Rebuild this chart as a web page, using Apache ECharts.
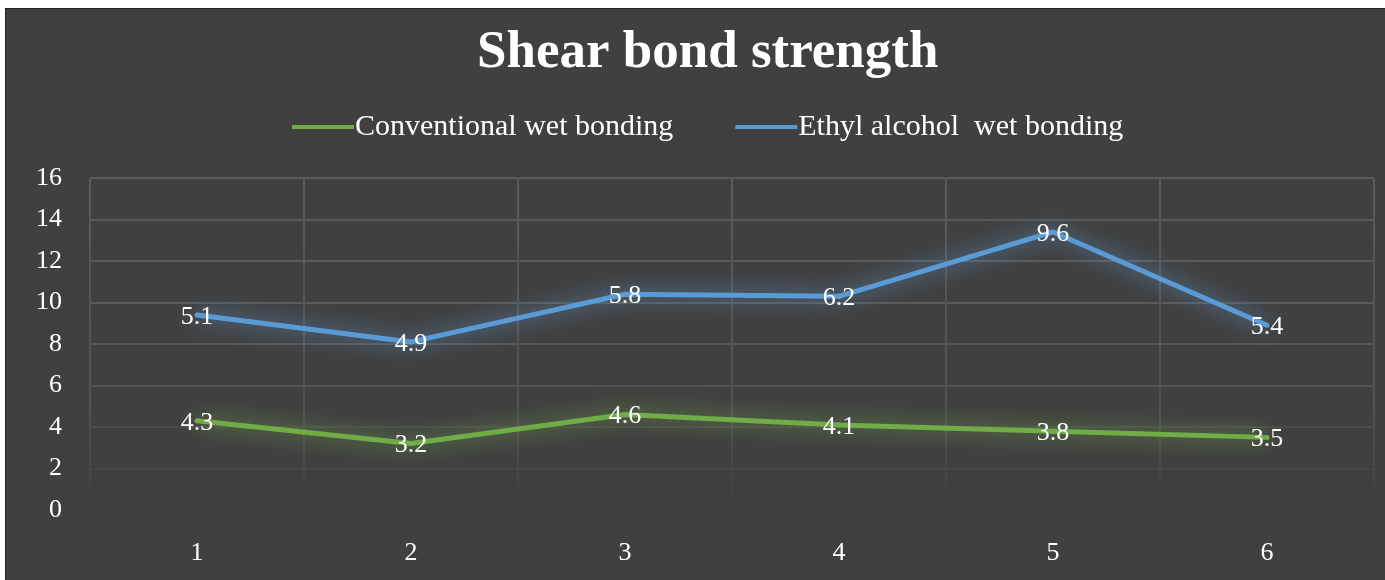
<!DOCTYPE html>
<html>
<head>
<meta charset="utf-8">
<script src="https://cdn.jsdelivr.net/npm/echarts@6/dist/echarts.min.js"></script>
<style>
    html, body { margin: 0; padding: 0; background: #ffffff; }
    #chart {
        position: absolute;
        left: 5px;
        top: 8px;
        width: 1379px;
        height: 571px;
        border-left: 1px solid #222;
        border-top: 1px solid #222;
        background: #404040;
    }
</style>
</head>
<body>
<div id="chart"></div>
<script>
const categories = ['1', '2', '3', '4', '5', '6'];
const conventionalValues = [4.3, 3.2, 4.6, 4.1, 3.8, 3.5];
const ethylValues = [5.1, 4.9, 5.8, 6.2, 9.6, 5.4];
const seriesNames = ['Conventional wet bonding', 'Ethyl alcohol  wet bonding'];

const serif = '"Liberation Serif", "DejaVu Serif", serif';
const green = '#70ad47';
const blue = '#5b9bd5';

// las lineas verticales se desvanecen hacia abajo, como en el original
const vLineGradient = new echarts.graphic.LinearGradient(0, 169, 0, 501, [
    { offset: 0, color: '#5a5a5a' },
    { offset: 0.7, color: '#515151' },
    { offset: 1, color: '#404040' }
], true);

function makeSeries(name, values, color) {
    return {
        name: name,
        type: 'line',
        stack: 'total',
        data: values,
        showSymbol: true,
        symbol: 'circle',
        symbolSize: 5,
        itemStyle: { color: color },
        lineStyle: {
            color: color,
            width: 5,
            shadowBlur: 20,
            shadowColor: color
        },
        label: {
            show: true,
            position: 'inside',
            color: '#ffffff',
            fontFamily: serif,
            fontSize: 26,
            offset: [0, 2]
        },
        emphasis: { disabled: true },
        animation: false
    };
}

const option = {
    backgroundColor: '#404040',
    title: {
        text: 'Shear bond strength',
        left: 466,
        top: 13,
        textStyle: {
            color: '#ffffff',
            fontFamily: serif,
            fontWeight: 'bold',
            fontSize: 53
        }
    },
    legend: {
        top: 98,
        left: 281,
        itemWidth: 62,
        itemHeight: 4,
        itemGap: 62,
        icon: 'rect',
        data: seriesNames,
        textStyle: {
            color: '#ffffff',
            fontFamily: serif,
            fontSize: 30,
            padding: [0, 0, 0, -4]
        }
    },
    grid: {
        left: 84,
        right: 11,
        top: 169,
        bottom: 70,
        containLabel: false
    },
    xAxis: {
        type: 'category',
        data: categories,
        boundaryGap: true,
        axisLine: { show: false },
        axisTick: { show: false },
        axisLabel: {
            color: '#ffffff',
            fontFamily: serif,
            fontSize: 26,
            margin: 30
        },
        splitLine: {
            show: true,
            interval: 0,
            lineStyle: { color: vLineGradient, width: 2 }
        }
    },
    yAxis: {
        type: 'value',
        min: 0,
        max: 16,
        interval: 2,
        axisLine: { show: false },
        axisTick: { show: false },
        axisLabel: {
            color: '#ffffff',
            fontFamily: serif,
            fontSize: 26,
            margin: 28
        },
        splitLine: {
            lineStyle: {
                color: ['#404040', '#464646', '#4b4b4b', '#525252', '#575757', '#5a5a5a', '#5a5a5a', '#5a5a5a', '#5a5a5a'],
                width: 2
            }
        }
    },
    series: [
        makeSeries(seriesNames[0], conventionalValues, green),
        makeSeries(seriesNames[1], ethylValues, blue)
    ]
};

const myChart = echarts.init(document.getElementById('chart'));
myChart.setOption(option);
window.addEventListener('resize', myChart.resize);
</script>
</body>
</html>
